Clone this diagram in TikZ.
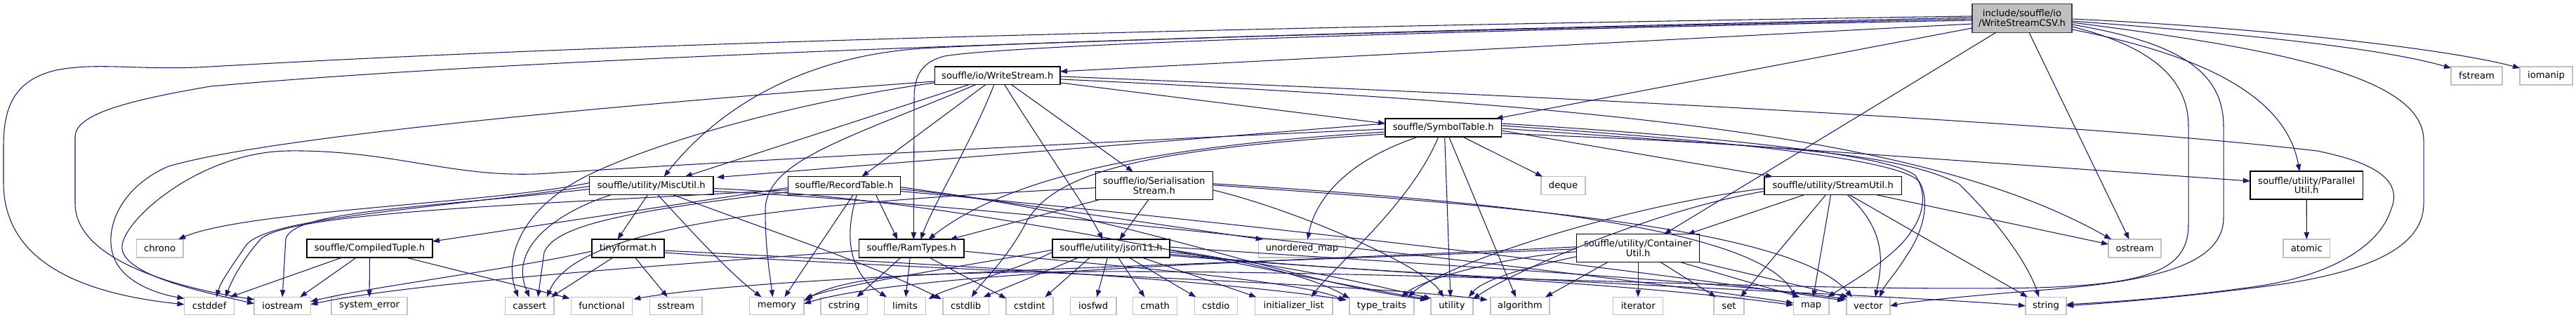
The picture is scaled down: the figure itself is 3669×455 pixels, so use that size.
\documentclass[tikz,border=0pt]{standalone}
\usepackage{fontspec}
\setmainfont{DejaVu Sans}
\usetikzlibrary{arrows.meta,calc}
\definecolor{edgec}{HTML}{191970}
\definecolor{sysb}{HTML}{BFBFBF}
\definecolor{csvf}{HTML}{BFBFBF}
\begin{document}
\begin{tikzpicture}[x=0.75pt,y=-0.75pt,
  every node/.style={inner sep=0pt,outer sep=0pt,font=\fontsize{9.85}{10}\selectfont,align=center},
  hdr/.style={draw=black,line width=1.1pt,fill=white},
  sys/.style={draw=sysb,line width=1.1pt,fill=white},
  cur/.style={draw=black!75,line width=1.1pt,fill=csvf},
  lnk/.style={draw=edgec,line width=0.8pt,-{Triangle[length=7.5pt,width=5.5pt]}}]
\useasboundingbox (0,0) rectangle (3669,455);
\fill[white] (0,0) rectangle (3669,455);

% ---------- nodes ----------
\node[cur,minimum width=142.3*0.75pt,minimum height=40.6*0.75pt] (csv) at (2880,26) {include/souffle/io\\/WriteStreamCSV.h};
\node[hdr,minimum width=178.4*0.75pt,minimum height=25.7*0.75pt] (ws) at (1420.8,107.9) {souffle/io/WriteStream.h};
\node[hdr,minimum width=165.3*0.75pt,minimum height=26*0.75pt] (sym) at (2055.7,182) {souffle/SymbolTable.h};
\node[hdr,minimum width=176.7*0.75pt,minimum height=25.6*0.75pt] (misc) at (927.7,264.5) {souffle/utility/MiscUtil.h};
\node[hdr,minimum width=160.2*0.75pt,minimum height=25.6*0.75pt] (rec) at (1202.4,264.5) {souffle/RecordTable.h};
\node[hdr,minimum width=167*0.75pt,minimum height=40*0.75pt] (ser) at (1643.8,264.7) {souffle/io/Serialisation\\Stream.h};
\node[sys,minimum width=63*0.75pt,minimum height=25.6*0.75pt] (deque) at (2226.5,264.5) {deque};
\node[hdr,minimum width=195.3*0.75pt,minimum height=25.6*0.75pt] (su) at (2610.7,264.5) {souffle/utility/StreamUtil.h};
\node[hdr,minimum width=160.5*0.75pt,minimum height=40*0.75pt] (par) at (3285.2,264) {souffle/utility/Parallel\\Util.h};
\node[sys,minimum width=73*0.75pt,minimum height=26*0.75pt] (fstream) at (3527.5,108) {fstream};
\node[sys,minimum width=75*0.75pt,minimum height=26*0.75pt] (iomanip) at (3626.5,108) {iomanip};
\node[sys,minimum width=66.6*0.75pt,minimum height=26*0.75pt] (chrono) at (227.7,354) {chrono};
\node[hdr,minimum width=179*0.75pt,minimum height=26*0.75pt] (ct) at (526.5,354) {souffle/CompiledTuple.h};
\node[hdr,minimum width=103*0.75pt,minimum height=26*0.75pt] (tiny) at (894.5,354) {tinyformat.h};
\node[hdr,minimum width=149.3*0.75pt,minimum height=25.6*0.75pt] (ram) at (1298.3,354) {souffle/RamTypes.h};
\node[hdr,minimum width=167*0.75pt,minimum height=25.6*0.75pt] (json) at (1582.5,354) {souffle/utility/json11.h};
\node[sys,minimum width=123.6*0.75pt,minimum height=25.6*0.75pt] (umap) at (1854.5,354) {unordered\_map};
\node[hdr,minimum width=175*0.75pt,minimum height=40*0.75pt] (cu) at (2333.2,353.7) {souffle/utility/Container\\Util.h};
\node[sys,minimum width=75*0.75pt,minimum height=26*0.75pt] (ostream) at (3040.5,354) {ostream};
\node[sys,minimum width=66.6*0.75pt,minimum height=26*0.75pt] (atomic) at (3285.3,354) {atomic};
% bottom row
\node[sys,minimum width=71.2*0.75pt,minimum height=25*0.75pt] (cstddef) at (298.1,435.8) {cstddef};
\node[sys,minimum width=80.3*0.75pt,minimum height=25*0.75pt] (iostream) at (402.2,435.8) {iostream};
\node[sys,minimum width=107.8*0.75pt,minimum height=25*0.75pt] (syserr) at (526.1,435.8) {system\_error};
\node[sys,minimum width=69.6*0.75pt,minimum height=25*0.75pt] (cassert) at (754.2,435.8) {cassert};
\node[sys,minimum width=86.6*0.75pt,minimum height=25*0.75pt] (functional) at (857,435.8) {functional};
\node[sys,minimum width=74.7*0.75pt,minimum height=25*0.75pt] (sstream) at (962.7,435.8) {sstream};
\node[sys,minimum width=77.3*0.75pt,minimum height=25*0.75pt] (memory) at (1106.4,435.8) {memory};
\node[sys,minimum width=66.7*0.75pt,minimum height=25*0.75pt] (cstring) at (1202.4,435.8) {cstring};
\node[sys,minimum width=58.6*0.75pt,minimum height=25*0.75pt] (limits) at (1289,435.8) {limits};
\node[sys,minimum width=65.3*0.75pt,minimum height=25*0.75pt] (cstdlib) at (1375.7,435.8) {cstdlib};
\node[sys,minimum width=66.7*0.75pt,minimum height=25*0.75pt] (cstdint) at (1466.4,435.8) {cstdint};
\node[sys,minimum width=65.7*0.75pt,minimum height=25*0.75pt] (iosfwd) at (1557.2,435.8) {iosfwd};
\node[sys,minimum width=63*0.75pt,minimum height=25*0.75pt] (cmath) at (1645.2,435.8) {cmath};
\node[sys,minimum width=61*0.75pt,minimum height=25*0.75pt] (cstdio) at (1731.8,435.8) {cstdio};
\node[sys,minimum width=110.7*0.75pt,minimum height=25*0.75pt] (initl) at (1842.7,435.8) {initializer\_list};
\node[sys,minimum width=91.7*0.75pt,minimum height=25*0.75pt] (typet) at (1967.9,435.8) {type\_traits};
\node[sys,minimum width=59.7*0.75pt,minimum height=25*0.75pt] (utility) at (2067.9,435.8) {utility};
\node[sys,minimum width=84.3*0.75pt,minimum height=25*0.75pt] (algorithm) at (2164.9,435.8) {algorithm};
\node[sys,minimum width=71*0.75pt,minimum height=25*0.75pt] (iterator) at (2333.2,435.8) {iterator};
\node[sys,minimum width=43*0.75pt,minimum height=25*0.75pt] (set) at (2462.5,435.8) {set};
\node[sys,minimum width=50.7*0.75pt,minimum height=25*0.75pt] (map) at (2579.7,435.8) {map};
\node[sys,minimum width=62*0.75pt,minimum height=25*0.75pt] (vector) at (2661,435.8) {vector};
\node[sys,minimum width=58.2*0.75pt,minimum height=25*0.75pt] (string) at (2914,435.8) {string};

% ---------- edges: WriteStreamCSV.h ----------
\draw[lnk] ($(csv.west)+(0,-3)$) .. controls (1800,38) and (900,60) .. (300,95) .. controls (200,101) and (140,88) .. (80,100) .. controls (15,115) and (5,160) .. (5,210) -- (5,260) .. controls (5,370) and (110,418) .. ($(cstddef.west)+(0,-2)$);
\draw[lnk] ($(csv.west)+(0,-1)$) .. controls (1800,48) and (800,78) .. (300,123) .. controls (170,145) and (107,165) .. (107,195) -- (107,290) .. controls (107,370) and (250,410) .. ($(iostream.west)+(0,-9)$);
\draw[lnk] ($(csv.west)+(0,1)$) .. controls (2000,44) and (1400,62) .. (1300,70) .. controls (1120,86) and (1010,170) .. ($(misc.north)+(18,0)$);
\draw[lnk] ($(csv.west)+(0,3)$) .. controls (2200,40) and (1450,62) .. (1345,80) .. controls (1315,88) and (1302,105) .. (1302,140) -- ($(ram.north)+(3,0)$);
\draw[lnk] ($(csv.west)+(0,8)$) -- ($(ws.east)+(0,-6)$);
\draw[lnk] ($(csv.west)+(0,14)$) -- ($(sym.north east)+(-8,0)$);
\draw[lnk] ($(csv.south west)+(34,0)$) -- ($(cu.north)+(37,0)$);
\draw[lnk] ($(csv.south)+(10,0)$) -- ($(ostream.north)+(-8,0)$);
\draw[lnk] ($(csv.east)+(0,16)$) .. controls (3120,75) and (3255,130) .. ($(par.north)+(-10,0)$);
\draw[lnk] ($(csv.east)+(0,4)$) .. controls (3150,45) and (3380,65) .. ($(fstream.north west)+(0,2)$);
\draw[lnk] ($(csv.east)+(0,1)$) .. controls (3200,38) and (3480,68) .. ($(iomanip.north west)+(0,2)$);
\draw[lnk] ($(csv.east)+(0,6)$) .. controls (3250,70) and (3452,110) .. (3452,200) -- (3452,290) .. controls (3452,350) and (3380,385) .. (3250,405) .. controls (3100,425) and (3000,432) .. (string.east);
\draw[lnk] ($(csv.east)+(0,12)$) .. controls (3060,65) and (3117,110) .. (3117,180) -- (3117,320) .. controls (3117,385) and (3060,405) .. (2900,410) .. controls (2500,418) and (1800,372) .. (1300,392) .. controls (1220,398) and (1175,410) .. ($(memory.east)+(0,-7)$);
\draw[lnk] ($(csv.east)+(0,9)$) .. controls (3100,60) and (3167,100) .. (3167,180) -- (3167,310) .. controls (3167,380) and (3060,402) .. (2900,414) .. controls (2800,422) and (2720,430) .. (vector.east);

% ---------- WriteStream.h ----------
\draw[lnk] ($(ws.west)+(0,8)$) .. controls (1000,140) and (400,190) .. (240,237) .. controls (175,265) and (150,320) .. (160,360) .. controls (170,400) and (220,418) .. ($(cstddef.north west)+(0,2)$);
\draw[lnk] ($(ws.south west)+(48,0)$) -- ($(misc.north)+(48,0)$);
\draw[lnk] ($(ws.south west)+(58,0)$) .. controls (1200,200) and (1090,230) .. (1090,300) .. controls (1090,360) and (1098,400) .. ($(memory.north)+(-6,0)$);
\draw[lnk] ($(ws.west)+(0,10)$) .. controls (1100,150) and (880,220) .. (810,265) .. controls (740,310) and (718,370) .. ($(cassert.north)+(-16,0)$);
\draw[lnk] ($(ws.south west)+(72,0)$) -- ($(rec.north)+(25,0)$);
\draw[lnk] ($(ws.south)+(-5,0)$) .. controls (1385,200) and (1330,290) .. ($(ram.north)+(13,0)$);
\draw[lnk] ($(ws.south)+(10,0)$) .. controls (1480,200) and (1550,300) .. ($(json.north)+(-12,0)$);
\draw[lnk] ($(ws.south)+(20,0)$) -- ($(ser.north)+(-30,0)$);
\draw[lnk] ($(ws.east)+(0,10)$) -- ($(sym.west)+(0,-6)$);
\draw[lnk] ($(ws.east)+(0,1)$) .. controls (2400,145) and (3000,180) .. (3300,215) .. controls (3400,235) and (3420,265) .. (3405,300) .. controls (3385,360) and (3300,398) .. (3200,410) .. controls (3100,424) and (3000,431) .. ($(string.east)+(0,-2)$);
\draw[lnk] ($(ws.east)+(0,5)$) .. controls (2300,150) and (2750,195) .. ($(ostream.north west)+(4,0)$);

% ---------- SymbolTable.h ----------
\draw[lnk] ($(sym.west)+(0,2)$) .. controls (1600,200) and (1000,232) .. (780,247) .. controls (650,256) and (560,213) .. (410,215) .. controls (280,217) and (168,320) .. (174,355) .. controls (180,395) and (300,418) .. ($(iostream.west)+(0,-3)$);
\draw[lnk] ($(sym.west)+(0,-6)$) -- ($(misc.north east)+(5,1)$);
\draw[lnk] ($(sym.west)+(0,6)$) .. controls (1700,205) and (1450,240) .. ($(ram.north)+(24,0)$);
\draw[lnk] ($(sym.west)+(0,9)$) .. controls (1650,212) and (1500,240) .. (1460,320) .. controls (1432,372) and (1400,400) .. ($(cstdlib.north)+(8,0)$);
\draw[lnk] ($(sym.south west)+(47,0)$) .. controls (1900,235) and (1870,300) .. ($(umap.north)+(8,0)$);
\draw[lnk] ($(sym.south)+(-7,0)$) .. controls (2010,290) and (1900,380) .. ($(initl.north)+(25,0)$);
\draw[lnk] ($(sym.south)+(2,0)$) -- ($(utility.north)+(-2,0)$);
\draw[lnk] ($(sym.south)+(8,0)$) -- ($(algorithm.north)+(-6,0)$);
\draw[lnk] ($(sym.south east)+(-55,0)$) -- ($(deque.north west)+(2,0)$);
\draw[lnk] ($(sym.east)+(0,4)$) -- ($(su.north west)+(12,0)$);
\draw[lnk] ($(sym.east)+(0,1)$) -- ($(par.west)+(0,-6)$);
\draw[lnk] ($(sym.east)+(0,-6)$) .. controls (2450,195) and (2690,220) .. (2728,250) .. controls (2745,275) and (2740,305) .. (2722,330) .. controls (2700,365) and (2640,400) .. ($(map.north east)+(-2,0)$);
\draw[lnk] ($(sym.east)+(0,-3)$) .. controls (2450,200) and (2700,225) .. (2733,258) .. controls (2750,285) and (2740,330) .. (2715,365) .. controls (2700,390) and (2685,405) .. ($(vector.north)+(16,0)$);
\draw[lnk] ($(sym.east)+(0,8)$) .. controls (2500,205) and (2700,215) .. (2790,262) .. controls (2850,320) and (2890,380) .. ($(string.north)+(-10,0)$);

% ---------- MiscUtil.h ----------
\draw[lnk] ($(misc.west)+(0,-4)$) .. controls (700,290) and (350,300) .. ($(chrono.north east)+(-7,0)$);
\draw[lnk] ($(misc.west)+(0,1)$) .. controls (600,300) and (380,310) .. (350,350) .. controls (330,380) and (315,400) .. ($(cstddef.north)+(10,0)$);
\draw[lnk] ($(misc.west)+(0,5)$) .. controls (600,297) and (420,300) .. (407,340) -- (iostream.north);
\draw[lnk] ($(misc.south west)+(32,0)$) .. controls (800,300) and (722,350) .. (cassert.north);
\draw[lnk] ($(misc.south)+(-5,0)$) -- ($(tiny.north)+(-15,0)$);
\draw[lnk] ($(misc.south)+(9,0)$) .. controls (985,330) and (1040,390) .. ($(memory.north)+(-22,0)$);
\draw[lnk] ($(misc.south)+(30,0)$) .. controls (1100,330) and (1250,380) .. ($(cstdlib.north west)+(-2,3)$);
\draw[lnk] ($(misc.east)+(0,8)$) .. controls (1400,290) and (2200,380) .. ($(map.west)+(0,-4)$);
\draw[lnk] ($(misc.east)+(0,4)$) .. controls (1400,285) and (1800,390) .. ($(utility.north west)+(-3,3)$);

% ---------- RecordTable.h ----------
\draw[lnk] ($(rec.west)+(0,3)$) -- ($(ct.north east)+(0,3)$);
\draw[lnk] ($(rec.west)+(0,6)$) .. controls (800,290) and (420,300) .. (372,340) .. controls (345,370) and (330,400) .. ($(cstddef.north)+(23,0)$);
\draw[lnk] ($(rec.west)+(0,9)$) .. controls (900,300) and (790,320) .. (775,360) -- ($(cassert.north)+(12,0)$);
\draw[lnk] ($(rec.south)+(45,0)$) -- ($(ram.north)+(-20,0)$);
\draw[lnk] ($(rec.south)+(13,0)$) -- ($(memory.north)+(11,0)$);
\draw[lnk] ($(rec.south)+(18,0)$) .. controls (1195,360) and (1225,400) .. ($(limits.north)+(-26,0)$);
\draw[lnk] ($(rec.east)+(0,2)$) -- ($(umap.north west)+(6,0)$);
\draw[lnk] ($(rec.east)+(0,5)$) .. controls (1600,300) and (1800,395) .. ($(utility.north west)+(-5,4)$);
\draw[lnk] ($(rec.east)+(0,8)$) .. controls (1700,310) and (2300,380) .. ($(vector.north west)+(-3,5)$);

% ---------- CompiledTuple.h ----------
\draw[lnk] ($(ct.south west)+(50,0)$) -- ($(cstddef.north east)+(-6,0)$);
\draw[lnk] ($(ct.south)+(-19,0)$) -- ($(iostream.north east)+(-15,0)$);
\draw[lnk] (ct.south) -- (syserr.north);
\draw[lnk] ($(ct.south east)+(-38,0)$) -- ($(functional.north west)+(-2,2)$);

% ---------- tinyformat.h ----------
\draw[lnk] ($(tiny.west)+(0,4)$) .. controls (720,385) and (520,410) .. ($(iostream.east)+(0,-6)$);
\draw[lnk] ($(tiny.south west)+(30,0)$) -- ($(cassert.north east)+(-4,0)$);
\draw[lnk] ($(tiny.south)+(10,0)$) -- ($(sstream.north)+(-12,0)$);
\draw[lnk] ($(tiny.east)+(0,3)$) .. controls (1300,375) and (1700,395) .. ($(typet.north west)+(-4,4)$);
\draw[lnk] ($(tiny.east)+(0,6)$) .. controls (1300,385) and (1900,400) .. ($(algorithm.north west)+(-4,4)$);

% ---------- RamTypes.h ----------
\draw[lnk] ($(ram.west)+(0,3)$) .. controls (1000,375) and (600,400) .. ($(iostream.east)+(0,-2)$);
\draw[lnk] ($(ram.south)+(-15,0)$) -- ($(cstring.north)+(18,0)$);
\draw[lnk] ($(ram.south)+(-2,0)$) -- ($(limits.north)+(1,0)$);
\draw[lnk] ($(ram.south)+(25,0)$) -- ($(cstdint.north west)+(0,2)$);
\draw[lnk] ($(ram.east)+(0,4)$) .. controls (1600,380) and (1850,400) .. ($(typet.north west)+(-6,5)$);

% ---------- json11.h ----------
\draw[lnk] ($(json.west)+(0,5)$) .. controls (1450,385) and (1350,410) .. ($(limits.north east)+(4,3)$);
\draw[lnk] ($(json.west)+(0,2)$) .. controls (1400,375) and (1200,405) .. ($(memory.north east)+(2,2)$);
\draw[lnk] ($(json.south west)+(38,0)$) -- ($(cstdlib.north)+(25,0)$);
\draw[lnk] ($(json.south)+(-30,0)$) -- ($(cstdint.north)+(22,0)$);
\draw[lnk] ($(json.south)+(-5,0)$) -- ($(iosfwd.north)+(5,0)$);
\draw[lnk] ($(json.south)+(10,0)$) -- ($(cmath.north)+(-15,0)$);
\draw[lnk] ($(json.south)+(25,0)$) -- ($(cstdio.north west)+(2,0)$);
\draw[lnk] ($(json.south east)+(-40,0)$) -- ($(initl.north west)+(2,0)$);
\draw[lnk] ($(json.east)+(0,2)$) .. controls (1800,375) and (1880,400) .. ($(typet.north west)+(0,2)$);
\draw[lnk] ($(json.east)+(0,5)$) .. controls (1850,380) and (1950,405) .. ($(utility.north west)+(0,2)$);
\draw[lnk] ($(json.east)+(0,8)$) .. controls (1950,390) and (2300,400) .. ($(map.west)+(0,-1)$);
\draw[lnk] ($(json.east)+(0,-2)$) .. controls (2000,375) and (2450,400) .. ($(vector.north west)+(0,3)$);
\draw[lnk] ($(json.east)+(0,10)$) .. controls (2100,400) and (2700,420) .. (string.west);

% ---------- SerialisationStream.h ----------
\draw[lnk] ($(ser.south west)+(5,0)$) -- ($(ram.north east)+(-20,0)$);
\draw[lnk] ($(ser.south)+(-8,0)$) -- ($(json.north)+(12,0)$);
\draw[lnk] ($(ser.west)+(0,3)$) .. controls (1100,290) and (820,325) .. ($(cassert.north east)+(-10,0)$);
\draw[lnk] ($(ser.east)+(0,6)$) .. controls (1850,300) and (2030,380) .. ($(utility.north)+(-12,0)$);
\draw[lnk] ($(ser.east)+(0,-3)$) .. controls (2100,285) and (2500,320) .. ($(map.north west)+(3,0)$);
\draw[lnk] ($(ser.east)+(0,-1)$) .. controls (2100,290) and (2550,320) .. ($(vector.north west)+(8,0)$);

% ---------- ContainerUtil.h ----------
\draw[lnk] (cu.south) -- (iterator.north);
\draw[lnk] ($(cu.south)+(32,0)$) -- ($(set.north west)+(3,0)$);
\draw[lnk] ($(cu.south east)+(-27,0)$) -- ($(map.north west)+(9,0)$);
\draw[lnk] (cu.south east) -- ($(vector.north west)+(2,0)$);
\draw[lnk] ($(cu.south west)+(44,0)$) -- ($(algorithm.north east)+(-6,0)$);
\draw[lnk] ($(cu.west)+(0,12)$) .. controls (2200,375) and (2115,395) .. ($(utility.north east)+(-6,0)$);
\draw[lnk] ($(cu.west)+(0,5)$) .. controls (2150,365) and (2030,395) .. ($(typet.north east)+(-18,0)$);
\draw[lnk] ($(cu.west)+(0,-2)$) .. controls (1900,370) and (1300,385) .. ($(memory.east)+(0,-3)$);
\draw[lnk] ($(cu.west)+(0,1)$) .. controls (1800,375) and (1100,390) .. ($(functional.north east)+(2,3)$);

% ---------- StreamUtil.h ----------
\draw[lnk] ($(su.south)+(-40,0)$) -- ($(cu.north east)+(-17,0)$);
\draw[lnk] ($(su.south)+(-10,0)$) -- ($(set.north east)+(-5,0)$);
\draw[lnk] ($(su.south)+(-3,0)$) -- ($(map.north)+(3,0)$);
\draw[lnk] ($(su.south)+(20,0)$) .. controls (2690,330) and (2680,380) .. ($(vector.north)+(10,0)$);
\draw[lnk] ($(su.south)+(23,0)$) -- ($(string.north west)+(3,0)$);
\draw[lnk] ($(su.south)+(60,0)$) -- ($(ostream.west)+(0,-6)$);
\draw[lnk] ($(su.west)+(0,4)$) .. controls (2300,295) and (2050,380) .. ($(typet.north east)+(-8,0)$);
\draw[lnk] ($(su.west)+(0,8)$) .. controls (2350,300) and (2150,390) .. ($(utility.north east)+(0,3)$);

% ---------- ParallelUtil.h ----------
\draw[lnk] (par.south) -- (atomic.north);
\end{tikzpicture}
\end{document}
